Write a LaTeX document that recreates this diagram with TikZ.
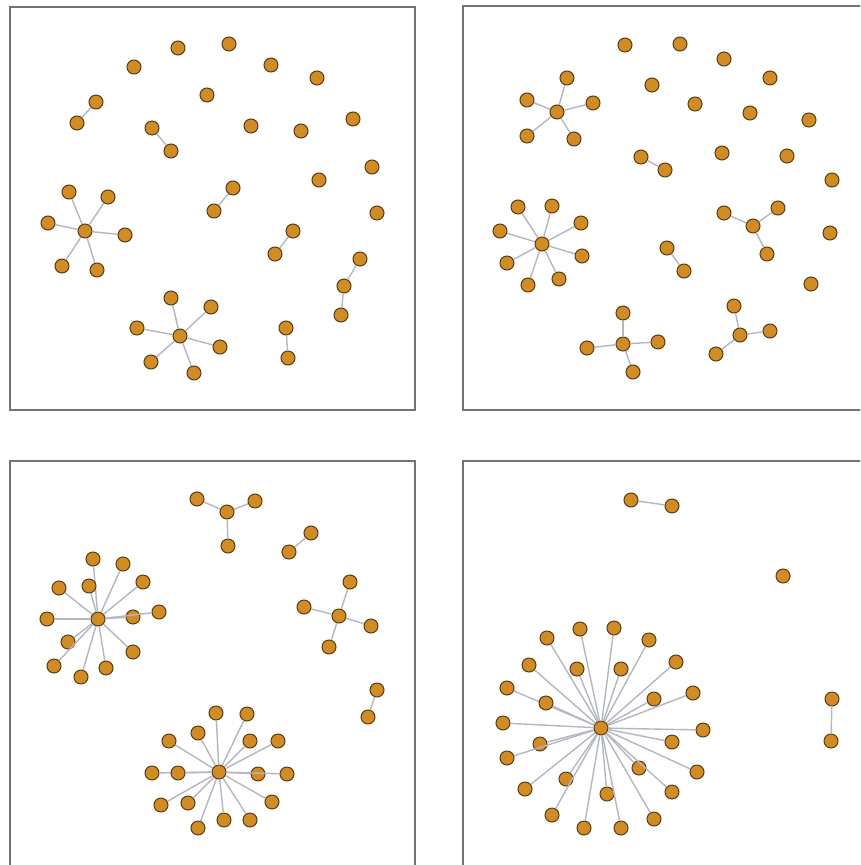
\documentclass[tikz,border=0pt]{standalone}
\definecolor{ndfill}{HTML}{D18C26}
\definecolor{ndedge}{HTML}{5A3C12}
\definecolor{lkcol}{HTML}{B3B7C2}
\definecolor{framecol}{HTML}{737373}
\newcommand\mkstar[3]{%
  \node[nd] (#1) at #2 {};
  \foreach \p [count=\i] in {#3} {\node[nd] (#1l\i) at \p {}; \draw[lk] (#1) -- (#1l\i);}
}
\newcommand\mkpair[3]{%
  \node[nd] (#1a) at #2 {}; \node[nd] (#1b) at #3 {}; \draw[lk] (#1a) -- (#1b);
}
\begin{document}
\begin{tikzpicture}[x=1pt,y=-1pt,
  nd/.style={circle,draw=ndedge,fill=ndfill,line width=1pt,minimum size=14pt,inner sep=0pt},
  lk/.style={draw=lkcol,line width=1.4pt},
  frame/.style={draw=framecol,line width=1.5pt}]
\useasboundingbox (0,0) rectangle (860,865);
\clip (0,0) rectangle (860,865);
\fill[white] (0,0) rectangle (860,865);
% frames
\draw[frame] (10,7) rectangle (415,410);
\draw[frame] (463,6) rectangle (875,410);
\draw[frame] (10,461) rectangle (415,880);
\draw[frame] (463,461) rectangle (875,880);
% ---------- panel 1
\foreach \p [count=\i] in {(178,48),(229,44),(134,67),(271,65),(317,78),(207,95),(251,126),(301,131),(353,119),(372,167),(319,180),(377,213)}
  {\node[nd] (a\i) at \p {};}
\mkpair{ap1}{(96,102)}{(77,123)}
\mkpair{ap2}{(152,128)}{(171,151)}
\mkpair{ap3}{(233,188)}{(214,211)}
\mkpair{ap4}{(293,231)}{(275,254)}
\mkpair{ap5}{(286,328)}{(288,358)}
\node[nd] (ach1) at (360,259) {};
\node[nd] (ach2) at (344,286) {};
\node[nd] (ach3) at (341,315) {};
\draw[lk] (ach1) -- (ach2); \draw[lk] (ach2) -- (ach3);
\mkstar{as1}{(85,231)}{(69,192),(108,197),(48,223),(125,235),(62,266),(97,270)}
\mkstar{as2}{(180,336)}{(171,298),(211,307),(137,328),(220,347),(151,362),(194,373)}
% ---------- panel 2
\foreach \p [count=\i] in {(625,45),(680,44),(724,59),(770,78),(652,85),(695,104),(750,113),(809,120),(722,153),(787,156),(832,180),(830,233),(811,284)}
  {\node[nd] (b\i) at \p {};}
\mkpair{bp1}{(641,157)}{(665,170)}
\mkpair{bp2}{(667,248)}{(684,271)}
\mkstar{bsA}{(557,112)}{(567,78),(527,100),(593,103),(527,136),(574,139)}
\mkstar{bsB}{(542,244)}{(518,207),(552,206),(581,223),(500,231),(582,256),(507,263),(528,285),(559,279)}
\mkstar{bsC}{(753,226)}{(724,213),(778,208),(767,254)}
\mkstar{bsD}{(623,344)}{(623,313),(587,348),(658,342),(633,372)}
\mkstar{bsE}{(740,335)}{(734,306),(770,331),(716,354)}
% ---------- panel 3
\mkstar{csF}{(227,512)}{(197,499),(255,501),(228,546)}
\mkpair{cp1}{(311,533)}{(289,552)}
\mkstar{csG}{(339,616)}{(350,582),(304,607),(371,626),(329,647)}
\mkpair{cp2}{(377,690)}{(368,717)}
\mkstar{csH}{(98,619)}{(93,559),(123,564),(59,588),(89,586),(143,582),(47,619),(133,617),(159,612),(68,642),(133,652),(54,666),(106,668),(81,677)}
\mkstar{csI}{(219,772)}{(216,713),(247,714),(198,733),(169,741),(250,741),(278,741),(152,773),(178,773),(258,774),(287,774),(161,805),(188,803),(272,802),(224,820),(250,820),(198,828)}
% ---------- panel 4
\mkpair{dp1}{(631,500)}{(672,506)}
\node[nd] (d1) at (783,576) {};
\mkpair{dp2}{(832,699)}{(831,741)}
\mkstar{dsJ}{(601,728)}{(580,629),(614,628),(547,638),(649,640),(529,665),(577,669),(621,669),(676,662),(507,688),(546,703),(654,699),(693,693),(503,723),(703,730),(540,744),(672,742),(507,758),(697,772),(639,768),(566,779),(525,789),(672,792),(607,794),(552,815),(654,819),(584,828),(621,828)}
\end{tikzpicture}
\end{document}
